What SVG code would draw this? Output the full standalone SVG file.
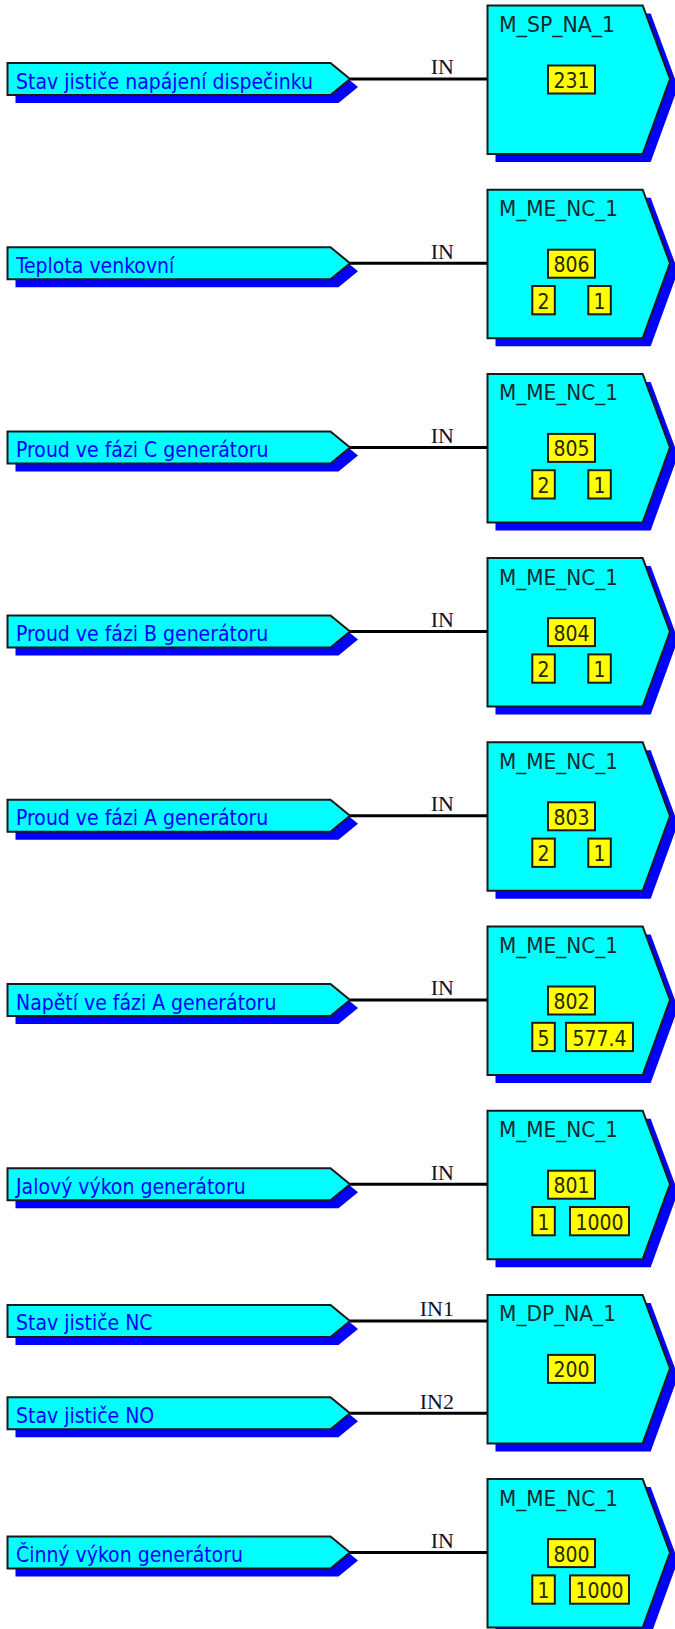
<svg xmlns="http://www.w3.org/2000/svg" xmlns:xlink="http://www.w3.org/1999/xlink" width="675" height="1629" viewBox="0 0 675 1629">
<style>
.shadow{fill:#0000ff;stroke:none}
.blk{fill:#00ffff;stroke:#1a1a1a;stroke-width:2}
.inp{fill:#00ffff;stroke:#1a1a1a;stroke-width:2}
.blabel{font-family:"DejaVu Sans Condensed","DejaVu Sans",sans-serif;font-size:21px;fill:#0d2b2b}
.ilabel{font-family:"DejaVu Sans Condensed","DejaVu Sans",sans-serif;font-size:21px;fill:#0000ff}
.ybox{fill:#ffff00;stroke:#1a1a1a;stroke-width:2}
.ytext{font-family:"DejaVu Sans Condensed","DejaVu Sans",sans-serif;font-size:21px;fill:#262600;text-anchor:middle}
.wire{stroke:#000;stroke-width:3;fill:none}
.pin{font-family:"Liberation Serif","Times New Roman",serif;font-size:22px;fill:#101030;text-anchor:end}
</style>
<defs>
<polygon id="blkShape" points="0,0 155.2,0 182.5,73.5 155.2,148.5 0,148.5"/>
<polygon id="inpShape" points="0,-16 323,-16 342.5,0 323,16 0,16"/>
</defs>
<rect width="675" height="1629" fill="#ffffff"/>

<g id="connectors">
<line class="wire" x1="350" y1="79" x2="487.5" y2="79"/><text class="pin" x="454" y="74.3">IN</text>
<line class="wire" x1="350" y1="263.2" x2="487.5" y2="263.2"/><text class="pin" x="454" y="258.5">IN</text>
<line class="wire" x1="350" y1="447.4" x2="487.5" y2="447.4"/><text class="pin" x="454" y="442.7">IN</text>
<line class="wire" x1="350" y1="631.6" x2="487.5" y2="631.6"/><text class="pin" x="454" y="626.9">IN</text>
<line class="wire" x1="350" y1="815.8" x2="487.5" y2="815.8"/><text class="pin" x="454" y="811.1">IN</text>
<line class="wire" x1="350" y1="1000" x2="487.5" y2="1000"/><text class="pin" x="454" y="995.3">IN</text>
<line class="wire" x1="350" y1="1184.2" x2="487.5" y2="1184.2"/><text class="pin" x="454" y="1179.5">IN</text>
<line class="wire" x1="350" y1="1320.9" x2="487.5" y2="1320.9"/><text class="pin" x="454" y="1316.2">IN1</text>
<line class="wire" x1="350" y1="1413.3" x2="487.5" y2="1413.3"/><text class="pin" x="454" y="1408.6">IN2</text>
<line class="wire" x1="350" y1="1552.6" x2="487.5" y2="1552.6"/><text class="pin" x="454" y="1547.9">IN</text>
</g>

<!-- Input nodes -->
<g id="in0" transform="translate(7.5,79)"><use href="#inpShape" class="shadow" transform="translate(8,8)"/><use href="#inpShape" class="inp"/><text class="ilabel" x="8.5" y="9.5">Stav jističe napájení dispečinku</text></g>
<g id="in1" transform="translate(7.5,263.2)"><use href="#inpShape" class="shadow" transform="translate(8,8)"/><use href="#inpShape" class="inp"/><text class="ilabel" x="8.5" y="9.5">Teplota venkovní</text></g>
<g id="in2" transform="translate(7.5,447.4)"><use href="#inpShape" class="shadow" transform="translate(8,8)"/><use href="#inpShape" class="inp"/><text class="ilabel" x="8.5" y="9.5">Proud ve fázi C generátoru</text></g>
<g id="in3" transform="translate(7.5,631.6)"><use href="#inpShape" class="shadow" transform="translate(8,8)"/><use href="#inpShape" class="inp"/><text class="ilabel" x="8.5" y="9.5">Proud ve fázi B generátoru</text></g>
<g id="in4" transform="translate(7.5,815.8)"><use href="#inpShape" class="shadow" transform="translate(8,8)"/><use href="#inpShape" class="inp"/><text class="ilabel" x="8.5" y="9.5">Proud ve fázi A generátoru</text></g>
<g id="in5" transform="translate(7.5,1000)"><use href="#inpShape" class="shadow" transform="translate(8,8)"/><use href="#inpShape" class="inp"/><text class="ilabel" x="8.5" y="9.5">Napětí ve fázi A generátoru</text></g>
<g id="in6" transform="translate(7.5,1184.2)"><use href="#inpShape" class="shadow" transform="translate(8,8)"/><use href="#inpShape" class="inp"/><text class="ilabel" x="8.5" y="9.5">Jalový výkon generátoru</text></g>
<g id="in7a" transform="translate(7.5,1320.9)"><use href="#inpShape" class="shadow" transform="translate(8,8)"/><use href="#inpShape" class="inp"/><text class="ilabel" x="8.5" y="9.5">Stav jističe NC</text></g>
<g id="in7b" transform="translate(7.5,1413.3)"><use href="#inpShape" class="shadow" transform="translate(8,8)"/><use href="#inpShape" class="inp"/><text class="ilabel" x="8.5" y="9.5">Stav jističe NO</text></g>
<g id="in8" transform="translate(7.5,1552.6)"><use href="#inpShape" class="shadow" transform="translate(8,8)"/><use href="#inpShape" class="inp"/><text class="ilabel" x="8.5" y="9.5">Činný výkon generátoru</text></g>

<!-- Blocks -->
<g id="blk0" transform="translate(487.5,5.5)"><use href="#blkShape" class="shadow" transform="translate(8,8)"/><use href="#blkShape" class="blk"/><text class="blabel" x="11.5" y="26.5" textLength="116" lengthAdjust="spacingAndGlyphs">M_SP_NA_1</text>
<rect class="ybox" x="60.5" y="60" width="47" height="28"/><text class="ytext" x="84" y="82.5">231</text></g>

<g id="blk1" transform="translate(487.5,189.7)"><use href="#blkShape" class="shadow" transform="translate(8,8)"/><use href="#blkShape" class="blk"/><text class="blabel" x="11.5" y="26.5" textLength="119" lengthAdjust="spacingAndGlyphs">M_ME_NC_1</text>
<rect class="ybox" x="60.5" y="60" width="47" height="28"/><text class="ytext" x="84" y="82.5">806</text>
<rect class="ybox" x="44.8" y="96.3" width="22.5" height="28.3"/><text class="ytext" x="56" y="119">2</text>
<rect class="ybox" x="100.8" y="96.3" width="22.5" height="28.3"/><text class="ytext" x="112" y="119">1</text></g>

<g id="blk2" transform="translate(487.5,373.9)"><use href="#blkShape" class="shadow" transform="translate(8,8)"/><use href="#blkShape" class="blk"/><text class="blabel" x="11.5" y="26.5" textLength="119" lengthAdjust="spacingAndGlyphs">M_ME_NC_1</text>
<rect class="ybox" x="60.5" y="60" width="47" height="28"/><text class="ytext" x="84" y="82.5">805</text>
<rect class="ybox" x="44.8" y="96.3" width="22.5" height="28.3"/><text class="ytext" x="56" y="119">2</text>
<rect class="ybox" x="100.8" y="96.3" width="22.5" height="28.3"/><text class="ytext" x="112" y="119">1</text></g>

<g id="blk3" transform="translate(487.5,558.1)"><use href="#blkShape" class="shadow" transform="translate(8,8)"/><use href="#blkShape" class="blk"/><text class="blabel" x="11.5" y="26.5" textLength="119" lengthAdjust="spacingAndGlyphs">M_ME_NC_1</text>
<rect class="ybox" x="60.5" y="60" width="47" height="28"/><text class="ytext" x="84" y="82.5">804</text>
<rect class="ybox" x="44.8" y="96.3" width="22.5" height="28.3"/><text class="ytext" x="56" y="119">2</text>
<rect class="ybox" x="100.8" y="96.3" width="22.5" height="28.3"/><text class="ytext" x="112" y="119">1</text></g>

<g id="blk4" transform="translate(487.5,742.3)"><use href="#blkShape" class="shadow" transform="translate(8,8)"/><use href="#blkShape" class="blk"/><text class="blabel" x="11.5" y="26.5" textLength="119" lengthAdjust="spacingAndGlyphs">M_ME_NC_1</text>
<rect class="ybox" x="60.5" y="60" width="47" height="28"/><text class="ytext" x="84" y="82.5">803</text>
<rect class="ybox" x="44.8" y="96.3" width="22.5" height="28.3"/><text class="ytext" x="56" y="119">2</text>
<rect class="ybox" x="100.8" y="96.3" width="22.5" height="28.3"/><text class="ytext" x="112" y="119">1</text></g>

<g id="blk5" transform="translate(487.5,926.5)"><use href="#blkShape" class="shadow" transform="translate(8,8)"/><use href="#blkShape" class="blk"/><text class="blabel" x="11.5" y="26.5" textLength="119" lengthAdjust="spacingAndGlyphs">M_ME_NC_1</text>
<rect class="ybox" x="60.5" y="60" width="47" height="28"/><text class="ytext" x="84" y="82.5">802</text>
<rect class="ybox" x="44.8" y="96.3" width="22.5" height="28.3"/><text class="ytext" x="56" y="119">5</text>
<rect class="ybox" x="78.5" y="96.3" width="67" height="28.3"/><text class="ytext" x="112" y="119">577.4</text></g>

<g id="blk6" transform="translate(487.5,1110.7)"><use href="#blkShape" class="shadow" transform="translate(8,8)"/><use href="#blkShape" class="blk"/><text class="blabel" x="11.5" y="26.5" textLength="119" lengthAdjust="spacingAndGlyphs">M_ME_NC_1</text>
<rect class="ybox" x="60.5" y="60" width="47" height="28"/><text class="ytext" x="84" y="82.5">801</text>
<rect class="ybox" x="44.8" y="96.3" width="22.5" height="28.3"/><text class="ytext" x="56" y="119">1</text>
<rect class="ybox" x="82.5" y="96.3" width="59" height="28.3"/><text class="ytext" x="112" y="119">1000</text></g>

<g id="blk7" transform="translate(487.5,1294.9)"><use href="#blkShape" class="shadow" transform="translate(8,8)"/><use href="#blkShape" class="blk"/><text class="blabel" x="11.5" y="26.5" textLength="117" lengthAdjust="spacingAndGlyphs">M_DP_NA_1</text>
<rect class="ybox" x="60.5" y="60" width="47" height="28"/><text class="ytext" x="84" y="82.5">200</text></g>

<g id="blk8" transform="translate(487.5,1479.1)"><use href="#blkShape" class="shadow" transform="translate(8,8)"/><use href="#blkShape" class="blk"/><text class="blabel" x="11.5" y="26.5" textLength="119" lengthAdjust="spacingAndGlyphs">M_ME_NC_1</text>
<rect class="ybox" x="60.5" y="60" width="47" height="28"/><text class="ytext" x="84" y="82.5">800</text>
<rect class="ybox" x="44.8" y="96.3" width="22.5" height="28.3"/><text class="ytext" x="56" y="119">1</text>
<rect class="ybox" x="82.5" y="96.3" width="59" height="28.3"/><text class="ytext" x="112" y="119">1000</text></g>
</svg>
